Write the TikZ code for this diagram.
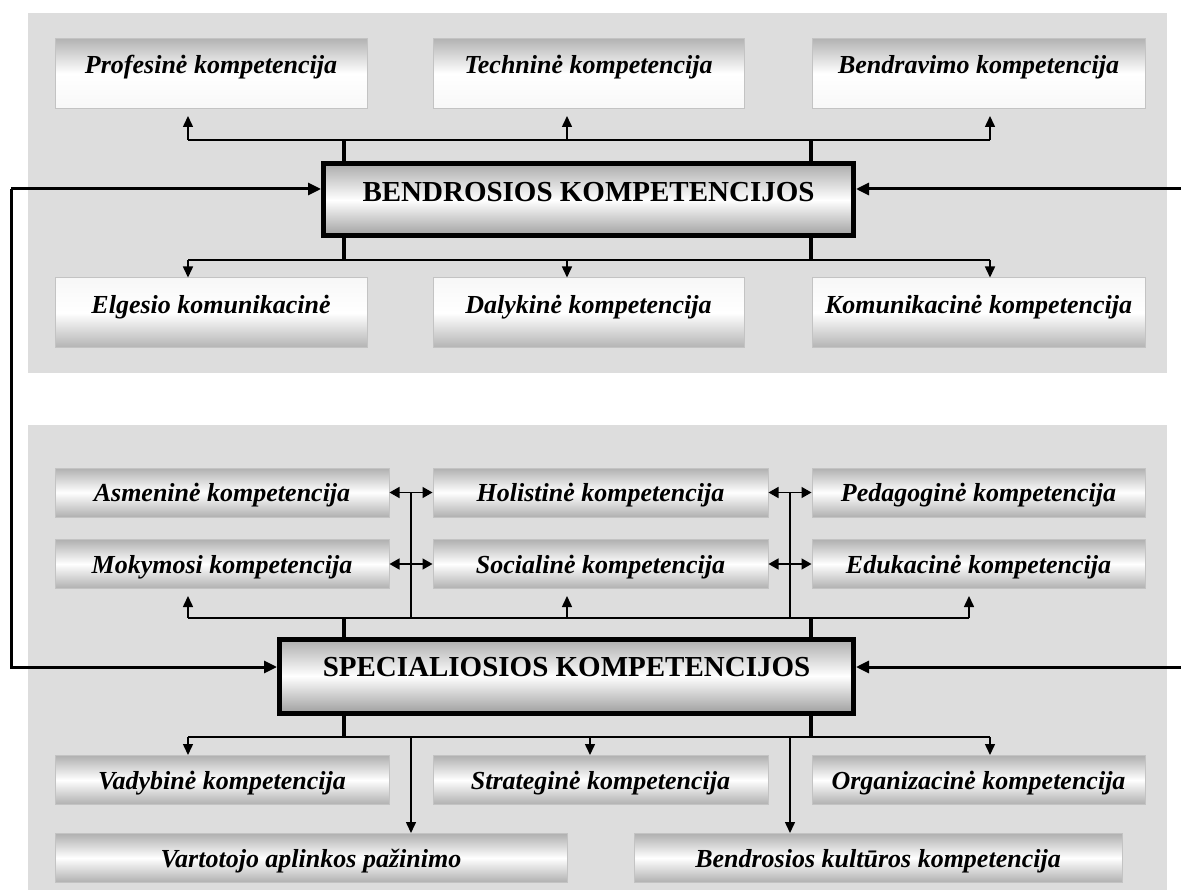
\documentclass[tikz,border=0pt]{standalone}
\usepackage{fontspec}
\setmainfont{Liberation Serif}
\usetikzlibrary{arrows.meta}
\definecolor{panelgray}{RGB}{221,221,221}
\definecolor{boxedge}{RGB}{195,195,195}
\tikzset{
  boxfont/.style={font=\fontsize{26}{26}\selectfont\bfseries\itshape},
  upbox/.style={boxfont, draw=boxedge, line width=1pt, top color=gray!60, bottom color=gray!6, middle color=white, minimum height=70pt, text depth=18pt},
  downbox/.style={boxfont, draw=boxedge, line width=1pt, top color=gray!6, bottom color=gray!60, middle color=white, minimum height=70pt, text depth=18pt},
  metalbox/.style={boxfont, draw=boxedge, line width=1pt, top color=gray!62, bottom color=gray!62, middle color=white, minimum height=49pt, text height=24pt},
  mainbox/.style={draw=black, line width=5pt, top color=gray!65, bottom color=gray!75, middle color=white, minimum height=72pt, font=\fontsize{29}{29}\selectfont\bfseries, text depth=16pt},
  bus/.style={line width=1.5pt},
  stub/.style={line width=4pt},
  arr/.style={line width=1.5pt, -{Triangle[width=10pt,length=11pt]}},
  dblarr/.style={line width=1.5pt, {Triangle[width=11pt,length=10pt]}-{Triangle[width=11pt,length=10pt]}},
  bigarr/.style={line width=3pt, -{Triangle[width=12pt,length=13pt]}}
}
\begin{document}
\begin{tikzpicture}[x=1pt,y=-1pt]
    \useasboundingbox (0,0) rectangle (1181,893);
    \fill[white] (0,0) rectangle (1181,893);
    \fill[panelgray] (28,13) rectangle (1167,373);
    \fill[panelgray] (28,425) rectangle (1167,890);

    % bendrosios
    \node[upbox, minimum width=312pt] (prof) at (211, 73.5) {Profesinė kompetencija};
    \node[upbox, minimum width=311pt] (tech) at (588.5, 73.5) {Techninė kompetencija};
    \node[upbox, minimum width=333pt] (bendr) at (978.5, 73.5) {Bendravimo kompetencija};
    \node[mainbox, minimum width=530pt] (bk) at (588.5, 200) {BENDROSIOS KOMPETENCIJOS};
    \node[downbox, minimum width=312pt] (elg) at (211, 313) {Elgesio komunikacinė};
    \node[downbox, minimum width=311pt] (dal) at (588.5, 313) {Dalykinė kompetencija};
    \node[downbox, minimum width=333pt] (kom) at (978.5, 313) {Komunikacinė kompetencija};

    \coordinate (bu1) at (344, 140);
    \coordinate (bu2) at (811, 140);
    \coordinate (bd1) at (344, 260);
    \coordinate (bd2) at (811, 260);
    \coordinate (bul) at (188, 140);
    \coordinate (bum) at (567, 140);
    \coordinate (bur) at (990, 140);
    \coordinate (bdl) at (188, 260);
    \coordinate (bdm) at (567, 260);
    \coordinate (bdr) at (990, 260);

    \draw[stub] (bu1) -- (bu1 |- bk.north);
    \draw[stub] (bu2) -- (bu2 |- bk.north);
    \draw[stub] (bd1) -- (bd1 |- bk.south);
    \draw[stub] (bd2) -- (bd2 |- bk.south);
    \draw[bus] (bul) -- (bur);
    \draw[bus] (bdl) -- (bdr);
    \draw[arr, shorten >=7pt] (bul) -- (bul |- prof.south);
    \draw[arr, shorten >=7pt] (bum) -- (bum |- tech.south);
    \draw[arr, shorten >=7pt] (bur) -- (bur |- bendr.south);
    \draw[arr] (bdl) -- (bdl |- elg.north);
    \draw[arr] (bdm) -- (bdm |- dal.north);
    \draw[arr] (bdr) -- (bdr |- kom.north);

    % specialiosios
    \node[metalbox, minimum width=334pt] (asm) at (222, 492.5) {Asmeninė kompetencija};
    \node[metalbox, minimum width=335pt] (hol) at (600.5, 492.5) {Holistinė kompetencija};
    \node[metalbox, minimum width=333pt] (ped) at (978.5, 492.5) {Pedagoginė kompetencija};
    \node[metalbox, minimum width=334pt] (mok) at (222, 564) {Mokymosi kompetencija};
    \node[metalbox, minimum width=335pt] (soc) at (600.5, 564) {Socialinė kompetencija};
    \node[metalbox, minimum width=333pt] (edu) at (978.5, 564) {Edukacinė kompetencija};
    \node[mainbox, minimum width=574pt, minimum height=74pt, text depth=18pt] (sk) at (566.5, 676) {SPECIALIOSIOS KOMPETENCIJOS};
    \node[metalbox, minimum width=334pt] (vad) at (222, 780) {Vadybinė kompetencija};
    \node[metalbox, minimum width=335pt] (str) at (600.5, 780) {Strateginė kompetencija};
    \node[metalbox, minimum width=333pt] (org) at (978.5, 780) {Organizacinė kompetencija};
    \node[metalbox, minimum width=512pt] (vart) at (311, 858) {Vartotojo aplinkos pažinimo};
    \node[metalbox, minimum width=488pt] (kult) at (878, 858) {Bendrosios kultūros kompetencija};

    \draw[dblarr] (asm) -- (hol);
    \draw[dblarr] (hol) -- (ped);
    \draw[dblarr] (mok) -- (soc);
    \draw[dblarr] (soc) -- (edu);

    \coordinate (su1) at (344, 618);
    \coordinate (su2) at (811, 618);
    \coordinate (sd1) at (344, 737);
    \coordinate (sd2) at (811, 737);
    \coordinate (sul) at (188, 618);
    \coordinate (sum) at (567, 618);
    \coordinate (sur) at (969, 618);
    \coordinate (sv1) at (411, 618);
    \coordinate (sv2) at (790, 618);
    \coordinate (sdl) at (188, 737);
    \coordinate (sdm) at (590, 737);
    \coordinate (sdr) at (990, 737);
    \coordinate (sw1) at (411, 737);
    \coordinate (sw2) at (790, 737);

    \draw[stub] (su1) -- (su1 |- sk.north);
    \draw[stub] (su2) -- (su2 |- sk.north);
    \draw[stub] (sd1) -- (sd1 |- sk.south);
    \draw[stub] (sd2) -- (sd2 |- sk.south);
    \draw[bus] (sul) -- (sur);
    \draw[bus] (sdl) -- (sdr);
    \draw[bus] (sv1) -- (sv1 |- asm.east);
    \draw[bus] (sv2) -- (sv2 |- hol.east);
    \draw[arr, shorten >=7pt] (sul) -- (sul |- mok.south);
    \draw[arr, shorten >=7pt] (sum) -- (sum |- soc.south);
    \draw[arr, shorten >=7pt] (sur) -- (sur |- edu.south);
    \draw[arr] (sdl) -- (sdl |- vad.north);
    \draw[arr] (sdm) -- (sdm |- str.north);
    \draw[arr] (sdr) -- (sdr |- org.north);
    \draw[arr] (sw1) -- (sw1 |- vart.north);
    \draw[arr] (sw2) -- (sw2 |- kult.north);

    % outer links
    \coordinate (la) at (11, 189);
    \coordinate (lb) at (11, 667);
    \coordinate (ra) at (1181, 189);
    \coordinate (rb) at (1181, 667);
    \draw[bigarr] (la) -- (la -| bk.west);
    \draw[bigarr] (la) -- (lb) -- (lb -| sk.west);
    \draw[bigarr] (ra) -- (ra -| bk.east);
    \draw[bigarr] (rb) -- (rb -| sk.east);
\end{tikzpicture}
\end{document}
